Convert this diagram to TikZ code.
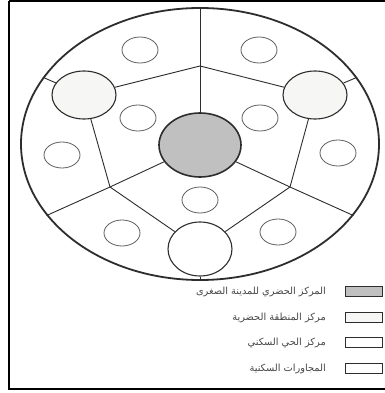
\documentclass[tikz,border=0pt]{standalone}
\usepackage{fontspec}
\newfontfamily\arabicfont[Script=Arabic]{DejaVu Sans}
\TeXXeTstate=1
\usetikzlibrary{shapes.geometric}
\definecolor{inkc}{RGB}{45,45,45}
\definecolor{smallc}{RGB}{95,95,95}
\definecolor{textc}{RGB}{70,70,70}
\definecolor{centfill}{RGB}{192,192,192}
\definecolor{bigfill}{RGB}{246,246,244}
\tikzset{
  outerell/.style={ellipse, draw=inkc, line width=1.8pt, minimum width=358pt, minimum height=272pt, inner sep=0pt},
  centre/.style={ellipse, draw=inkc, line width=1.6pt, fill=centfill, minimum width=82pt, minimum height=64pt, inner sep=0pt},
  bigc/.style={ellipse, draw=inkc, line width=1.1pt, fill=bigfill, minimum width=64pt, minimum height=48pt, inner sep=0pt},
  bigcb/.style={ellipse, draw=inkc, line width=1.1pt, fill=white, minimum width=64pt, minimum height=54pt, inner sep=0pt},
  smallc/.style={ellipse, draw=smallc, line width=0.8pt, minimum width=36pt, minimum height=26pt, inner sep=0pt},
  link/.style={draw=inkc, line width=0.9pt},
  legbox/.style={rectangle, draw=inkc, line width=1pt, minimum width=37pt, minimum height=10pt, inner sep=0pt},
  legtext/.style={anchor=east, inner sep=0pt, text=textc, font=\arabicfont\fontsize{9.8}{11}\selectfont},
}
\begin{document}
\begin{tikzpicture}[x=1pt,y=-1pt]
\useasboundingbox (0,0) rectangle (384,393);
\fill[white] (0,0) rectangle (384,393);
\draw[line width=2pt, black] (9,1) -- (400,1);
\draw[line width=2pt, black] (9,1) -- (9,388.5) -- (400,388.5);

\node[outerell] (outer) at (200,144) {};

% hexagon vertices
\coordinate (top) at (200,66);
\coordinate (llv) at (110,187);
\coordinate (lrv) at (290,187);

\node[centre] (c) at (200,145) {};
\node[bigc] (bul) at (84,95) {};
\node[bigc] (bur) at (315,95) {};
\node[bigcb] (bb) at (200,249) {};

% connectors
\path[link] (outer.90) -- (c.north);
\path[link] (top) -- (bul);
\path[link] (top) -- (bur);
\path[link] (bul) -- (llv);
\path[link] (bur) -- (lrv);
\path[link] (llv) -- (bb);
\path[link] (lrv) -- (bb);
\path[link] (c) -- (llv);
\path[link] (c) -- (lrv);
\path[link] (llv) -- (outer.205);
\path[link] (lrv) -- (outer.335);
\path[link] (bul) -- (outer.157);
\path[link] (bur) -- (outer.23);
\path[link] (bb) -- (outer.270);

% small circles
\node[smallc] (s1) at (140,50) {};
\node[smallc] (s2) at (259,50) {};
\node[smallc] (s3) at (138,118) {};
\node[smallc] (s4) at (260,118) {};
\node[smallc] (s5) at (62,155) {};
\node[smallc] (s6) at (338,153) {};
\node[smallc] (s7) at (200,200) {};
\node[smallc] (s8) at (122,233) {};
\node[smallc] (s9) at (278,232) {};

% legend
\node[legbox, fill=centfill] (k1) at (364,291) {};
\node[legbox, fill=bigfill] (k2) at (364,317) {};
\node[legbox] (k3) at (364,342) {};
\node[legbox] (k4) at (364,368) {};
\node[legtext] (t1) at (326,292) {\beginR المركز الحضري للمدينة الصغرى\endR};
\node[legtext] (t2) at (326,318) {\beginR مركز المنطقة الحضرية\endR};
\node[legtext] (t3) at (326,343) {\beginR مركز الحي السكني\endR};
\node[legtext] (t4) at (326,369) {\beginR المجاورات السكنية\endR};
\end{tikzpicture}
\end{document}
